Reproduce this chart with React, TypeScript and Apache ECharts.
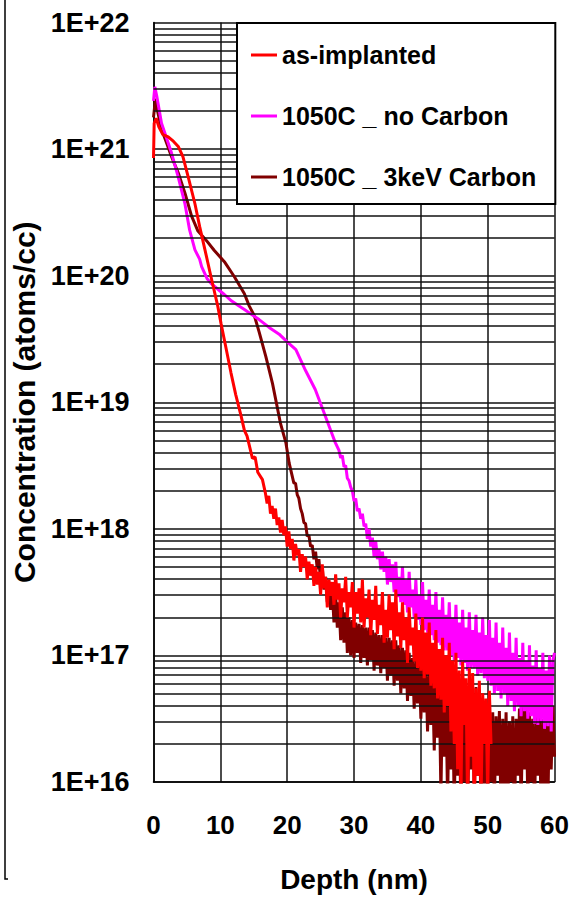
import React, { useEffect, useRef } from "react";
import * as echarts from "echarts";

// ---------- axes / ticks ----------
const xTicks = [0, 10, 20, 30, 40, 50, 60];
const yMin = 1e16;
const yMax = 1e22;
const decadeStarts = [1e16, 1e17, 1e18, 1e19, 1e20, 1e21];
const minorMultipliers = [2, 3, 4, 5, 6, 7, 8, 9];

const seriesNames = ["as-implanted", "1050C _ no Carbon", "1050C _ 3keV Carbon"];
const seriesColors = ["#ff0000", "#ff00ff", "#800000"];

// ---------- as-implanted (red) ----------
const redDepth = [0, 0.1, 0.4, 0.8, 1.4, 2.2, 3.0, 3.7, 4.4, 5.2, 6.2, 6.9, 7.7, 8.6, 9.6, 10.1, 10.9, 11.6, 12.3, 13.1, 13.6, 14.0, 14.8, 15.2, 15.6, 16.3];
const redConc = [8.5e20, 1.6e21, 1.75e21, 1.5e21, 1.3e21, 1.25e21, 1.15e21, 1.05e21, 8.7e20, 6.0e20, 3.7e20, 2.45e20, 1.6e20, 9.8e19, 5.8e19, 4.2e19, 2.6e19, 1.7e19, 1.15e19, 7.8e18, 6.0e18, 5.4e18, 3.6e18, 3.7e18, 2.8e18, 2.45e18];
// noisy tail, log10(concentration), sampled every 0.25 nm from 16.75 nm
const redTailStart = 16.75;
const redTailLog = [
  18.28, 18.20, 18.26, 18.12, 18.18, 18.08, 18.16, 18.03,
  18.09, 17.97, 18.07, 17.95, 18.02, 17.86, 17.98, 17.84,
  17.92, 17.75, 17.88, 17.79, 17.84, 17.66, 17.80, 17.70,
  17.78, 17.60, 17.74, 17.63, 17.72, 17.55, 17.70, 17.56,
  17.66, 17.48, 17.72, 17.53, 17.62, 17.38, 17.60, 17.47,
  17.58, 17.40, 17.64, 17.44, 17.57, 17.30, 17.53, 17.42,
  17.62, 17.30, 17.50, 17.38, 17.58, 17.22, 17.50, 17.33,
  17.53, 17.26, 17.60, 17.22, 17.45, 17.30, 17.52, 17.16,
  17.44, 17.28, 17.55, 17.17, 17.40, 17.24, 17.50, 17.10,
  17.36, 17.14, 17.48, 17.20, 17.42, 17.05, 17.52, 17.15,
  17.34, 17.06, 17.42, 17.12, 17.30, 16.94, 17.38, 17.08,
  17.22, 16.95, 17.33, 16.90, 17.20, 16.88, 17.30, 16.82,
  17.18, 16.85, 17.26, 16.76, 17.10, 16.74, 17.20, 16.66,
  17.05, 16.65, 17.14, 16.55, 17.00, 16.60, 17.10, 16.40,
  16.96, 16.30, 17.02, 16.10, 16.88, 15.90, 16.95, 16.45,
  16.82, 15.80, 16.90, 16.20, 16.86, 15.70, 16.74, 16.05,
  16.80, 15.85, 16.70, 16.30, 16.66, 15.90, 16.72, 16.30,
];

// ---------- 1050C no Carbon (magenta) ----------
const magDepth = [0, 0.2, 0.5, 1.2, 2.0, 2.7, 3.7, 4.7, 5.4, 6.2, 6.9, 7.2, 8.0, 8.6, 9.9, 10.6, 11.7, 12.8, 13.6, 15.8, 17.3, 18.8, 20.0, 21.3, 22.75, 24.2, 25.7, 26.5, 27.2];
const magConc = [2.4e21, 3.1e21, 2.6e21, 1.6e21, 1.2e21, 9.3e20, 6.0e20, 3.7e20, 2.3e20, 1.6e20, 1.35e20, 1.18e20, 9.5e19, 8.7e19, 7.6e19, 7.1e19, 6.3e19, 5.75e19, 5.4e19, 4.5e19, 3.9e19, 3.45e19, 3.0e19, 2.6e19, 1.78e19, 1.26e19, 7.8e18, 6.0e18, 4.8e18];
const magTailStart = 27.75;
const magTailLog = [
  18.62, 18.56, 18.58, 18.49, 18.50, 18.40, 18.38, 18.33,
  18.30, 18.22, 18.24, 18.14, 18.16, 18.08, 18.12, 18.02,
  18.04, 17.92, 18.00, 17.86, 17.93, 17.78, 17.90, 17.76,
  17.84, 17.68, 17.82, 17.66, 17.78, 17.56, 17.76, 17.58,
  17.72, 17.50, 17.74, 17.46, 17.62, 17.42, 17.70, 17.40,
  17.60, 17.34, 17.66, 17.38, 17.52, 17.30, 17.60, 17.28,
  17.48, 17.24, 17.58, 17.20, 17.44, 17.18, 17.52, 17.16,
  17.40, 17.12, 17.50, 17.10, 17.36, 17.08, 17.46, 17.04,
  17.32, 17.04, 17.42, 17.00, 17.30, 16.96, 17.40, 16.98,
  17.26, 16.92, 17.36, 16.94, 17.22, 16.88, 17.34, 16.90,
  17.20, 16.90, 17.32, 16.84, 17.18, 16.86, 17.30, 16.82,
  17.16, 16.80, 17.28, 16.76, 17.14, 16.70, 17.26, 16.72,
  17.10, 16.66, 17.22, 16.70, 17.06, 16.60, 17.18, 16.64,
  17.02, 16.56, 17.14, 16.60, 16.98, 16.52, 17.10, 16.56,
  16.96, 16.50, 17.08, 16.52, 16.92, 16.46, 17.04, 16.45,
  16.90, 16.48, 17.02, 16.42, 16.88, 16.44, 17.00, 16.40,
  16.96, 17.02,
];

// ---------- 1050C 3keV Carbon (dark red) ----------
const drDepth = [0, 0.3, 0.6, 1.0, 1.45, 2.0, 2.7, 3.7, 4.7, 5.7, 6.65, 7.9, 9.1, 10.6, 12.1, 13.6, 14.3, 15.1, 15.8, 16.8, 17.8, 19.0, 19.8, 20.3, 21.0];
const drConc = [1.78e21, 2.5e21, 2.0e21, 1.6e21, 1.32e21, 1.1e21, 8.7e20, 6.5e20, 4.5e20, 2.95e20, 2.25e20, 1.9e20, 1.58e20, 1.29e20, 9.8e19, 7.2e19, 5.8e19, 4.8e19, 3.6e19, 2.3e19, 1.41e19, 6.8e18, 4.8e18, 3.3e18, 2.3e18];
const drTailStart = 21.25;
const drTailLog = [
  18.36, 18.27, 18.24, 18.16, 18.12, 18.05, 18.04, 17.94,
  17.95, 17.86, 17.87, 17.76, 17.82, 17.68, 17.76, 17.58,
  17.70, 17.52, 17.62, 17.42, 17.56, 17.36, 17.50, 17.26,
  17.48, 17.22, 17.42, 17.12, 17.38, 17.10, 17.34, 17.02,
  17.30, 17.00, 17.28, 16.98, 17.26, 17.02, 17.25, 16.94,
  17.24, 16.98, 17.22, 16.92, 17.22, 16.96, 17.20, 16.88,
  17.18, 16.92, 17.16, 16.86, 17.16, 16.90, 17.14, 16.80,
  17.14, 16.84, 17.12, 16.76, 17.12, 16.80, 17.08, 16.70,
  17.06, 16.74, 17.04, 16.64, 17.02, 16.68, 16.98, 16.58,
  16.96, 16.62, 16.94, 16.50, 16.92, 16.55, 16.88, 16.40,
  16.86, 16.45, 16.82, 16.25, 16.80, 16.35, 16.75, 15.90,
  16.72, 16.20, 16.68, 15.85, 16.66, 16.10, 16.62, 15.80,
  16.60, 16.05, 16.58, 15.70, 16.56, 16.00, 16.60, 15.75,
  16.55, 16.10, 16.70, 15.80, 16.75, 16.05, 16.66, 15.70,
  16.55, 15.95, 16.58, 15.75, 16.50, 16.00, 16.55, 15.80,
  16.52, 16.05, 16.56, 15.70, 16.50, 15.95, 16.55, 15.75,
  16.48, 16.00, 16.52, 15.65, 16.50, 16.05, 16.58, 15.80,
  16.60, 16.10, 16.62, 15.85, 16.55, 16.00, 16.50, 15.75,
  16.52, 16.05, 16.56, 15.70, 16.50, 15.95, 16.58, 15.80,
  16.62, 16.10, 16.60, 16.20,
];

const tailStep = 0.25;

function buildSeries(depth: number[], conc: number[], tailStart: number, tailLog: number[]) {
  const pts: [number, number][] = depth.map((d, i) => [d, conc[i]]);
  tailLog.forEach((lv, i) => pts.push([+(tailStart + i * tailStep).toFixed(2), Math.pow(10, lv)]));
  return pts;
}

const FONT = '"Liberation Sans", Arial, sans-serif';

export default function App() {
  const ref = useRef<HTMLDivElement>(null);

  useEffect(() => {
    document.body.style.margin = "0";
    if (!ref.current) return;
    const chart = echarts.init(ref.current, undefined, { renderer: "svg" });

    const minorLines: { yAxis: number }[] = [];
    decadeStarts.forEach((d) => minorMultipliers.forEach((m) => minorLines.push({ yAxis: d * m })));

    const red = buildSeries(redDepth, redConc, redTailStart, redTailLog);
    const mag = buildSeries(magDepth, magConc, magTailStart, magTailLog);
    const dr = buildSeries(drDepth, drConc, drTailStart, drTailLog);

    const lineSeries = (name: string, color: string, data: [number, number][], z: number) => ({
      name,
      type: "line",
      data,
      showSymbol: false,
      symbol: "none",
      clip: true,
      z,
      lineStyle: { color, width: 3 },
      itemStyle: { color },
      emphasis: { disabled: true },
    });

    chart.setOption({
      animation: false,
      grid: { left: 153.5, right: 14.5, top: 22.5, bottom: 116 },
      graphic: [
        {
          type: "polyline",
          shape: { points: [[5, 0], [5, 879], [8, 879]] },
          style: { stroke: "#000", lineWidth: 1.5, fill: null },
        },
      ],
      legend: {
        data: seriesNames,
        orient: "vertical",
        left: 237,
        top: 23,
        backgroundColor: "#fff",
        borderColor: "#000",
        borderWidth: 2,
        padding: [19, 19, 14, 14],
        itemGap: 35,
        itemWidth: 26,
        itemHeight: 3,
        icon: "rect",
        z: 20,
        textStyle: { fontSize: 25, fontWeight: "bold", fontFamily: FONT, color: "#000", lineHeight: 26 },
      },
      xAxis: {
        type: "value",
        min: xTicks[0],
        max: xTicks[xTicks.length - 1],
        interval: 10,
        name: "Depth (nm)",
        nameLocation: "middle",
        nameGap: 83,
        nameTextStyle: { fontSize: 28, fontWeight: "bold", fontFamily: FONT, color: "#000" },
        axisLine: { show: true, lineStyle: { color: "#000", width: 1.5 } },
        axisTick: { show: false },
        axisLabel: { margin: 30, fontSize: 26, fontWeight: "bold", fontFamily: FONT, color: "#000" },
        splitLine: { show: true, lineStyle: { color: "#111", width: 1.5 } },
      },
      yAxis: {
        type: "log",
        logBase: 10,
        min: yMin,
        max: yMax,
        splitNumber: 6,
        name: "Concentration (atoms/cc)",
        nameLocation: "middle",
        nameGap: 110,
        nameTextStyle: { fontSize: 30, fontWeight: "bold", fontFamily: FONT, color: "#000" },
        axisLine: { show: true, lineStyle: { color: "#000", width: 1.5 } },
        axisTick: { show: false },
        axisLabel: {
          margin: 24,
          fontSize: 27,
          fontWeight: "bold",
          fontFamily: FONT,
          color: "#000",
          formatter: (v: number) => "1E+" + Math.round(Math.log10(v)),
        },
        splitLine: { show: true, lineStyle: { color: "#111", width: 1.5 } },
      },
      series: [
        {
          name: "minor-grid",
          type: "line",
          data: [],
          z: 1,
          silent: true,
          markLine: {
            silent: true,
            symbol: ["none", "none"],
            label: { show: false },
            lineStyle: { color: "#111", width: 1.5, type: "solid" },
            emphasis: { disabled: true },
            data: minorLines,
          },
        },
        lineSeries(seriesNames[2], seriesColors[2], dr, 3),
        lineSeries(seriesNames[1], seriesColors[1], mag, 4),
        lineSeries(seriesNames[0], seriesColors[0], red, 5),
      ],
    });

    return () => chart.dispose();
  }, []);

  return <div ref={ref} style={{ width: 572, height: 898 }} />;
}
